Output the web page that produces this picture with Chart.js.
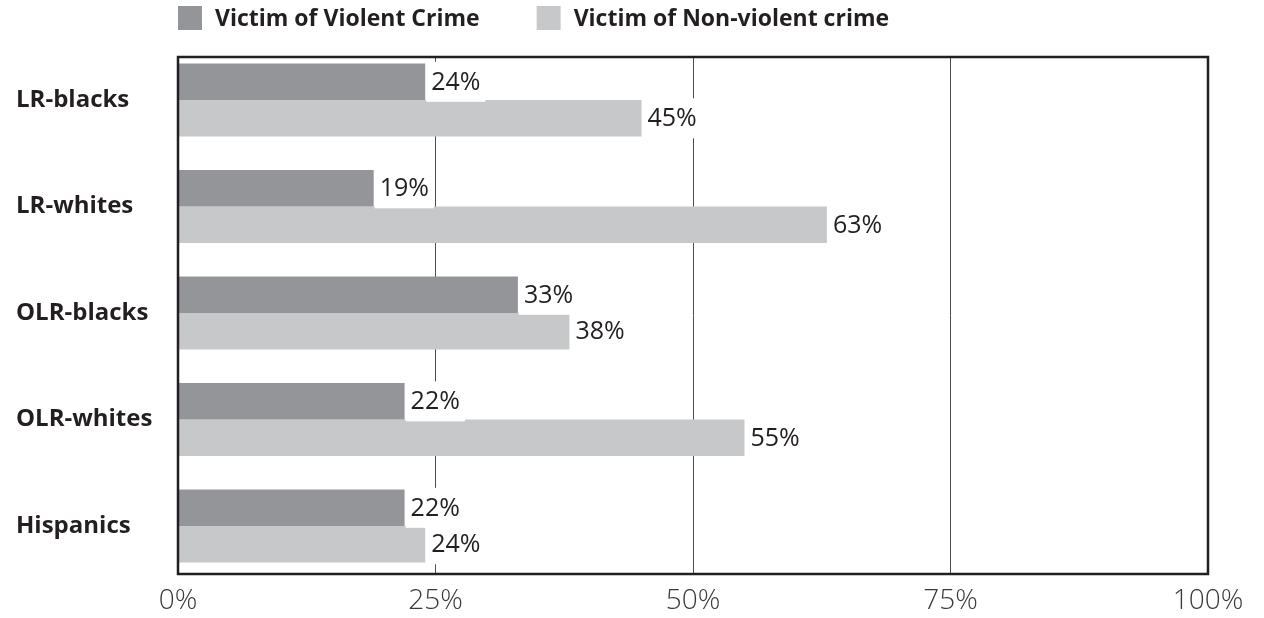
<html>
<head>
	<title>Crime victims chart</title>
	<meta name="viewport" content="width=device-width, initial-scale=1">
	<script src="https://cdn.jsdelivr.net/npm/chart.js"></script>
	<style>
		html, body { margin: 0; padding: 0; background: #fff; }
		.chart { width: 1264px; height: 618px; }
	</style>
</head>
<body>
	<div class="chart">
		<canvas id="victims" width="1264" height="618"></canvas>
	</div>
</body>
<script>
    const categories = ['LR-blacks', 'LR-whites', 'OLR-blacks', 'OLR-whites', 'Hispanics'];
    const seriesNames = ['Victim of Violent Crime', 'Victim of Non-violent crime'];
    const violent = [24, 19, 33, 22, 22];
    const nonViolent = [45, 63, 38, 55, 24];
    const xTicks = [0, 25, 50, 75, 100];

    const colors = ['#939598', '#c7c8ca'];
    const textColor = '#231f20';
    const fontFamily = '"Open Sans", "Noto Sans", sans-serif';

    // 막대 옆 값 표시 (흰 배경 박스)
    const valueLabels = {
        id: 'valueLabels',
        afterDatasetsDraw(chart) {
            const ctx = chart.ctx;
            ctx.save();
            ctx.font = `25px ${fontFamily}`;
            ctx.textBaseline = 'middle';
            ctx.textAlign = 'left';
            chart.data.datasets.forEach((ds, di) => {
                chart.getDatasetMeta(di).data.forEach((bar, i) => {
                    const text = ds.data[i].x + '%';
                    const w = ctx.measureText(text).width;
                    ctx.fillStyle = '#fff';
                    ctx.fillRect(bar.x + 1, bar.y - 20, w + 10, 40);
                    ctx.fillStyle = textColor;
                    ctx.fillText(text, bar.x + 6, bar.y + 1);
                });
            });
            ctx.restore();
        }
    };

    // 플롯 영역 테두리
    const plotBorder = {
        id: 'plotBorder',
        afterDatasetsDraw(chart) {
            const a = chart.chartArea;
            const ctx = chart.ctx;
            ctx.save();
            ctx.strokeStyle = textColor;
            ctx.lineWidth = 2.5;
            ctx.strokeRect(a.left, a.top, a.right - a.left, a.bottom - a.top);
            ctx.restore();
        }
    };

    // 상단 범례
    const topLegend = {
        id: 'topLegend',
        afterDraw(chart) {
            const ctx = chart.ctx;
            ctx.save();
            ctx.font = `bold 23px ${fontFamily}`;
            ctx.textBaseline = 'middle';
            ctx.textAlign = 'left';
            let x = chart.chartArea.left;
            chart.data.datasets.forEach((ds) => {
                ctx.fillStyle = ds.backgroundColor;
                ctx.fillRect(x, 6, 24, 24);
                ctx.fillStyle = textColor;
                ctx.fillText(ds.label, x + 37, 19);
                x += 37 + ctx.measureText(ds.label).width + 57;
            });
            ctx.restore();
        }
    };

    const chartData = {
        datasets: [
            {
                label: seriesNames[0],
                data: violent.map((v, i) => ({ x: v, y: i })),
                backgroundColor: colors[0],
            },
            {
                label: seriesNames[1],
                data: nonViolent.map((v, i) => ({ x: v, y: i })),
                backgroundColor: colors[1],
            }
        ]
    };

    const chartConfig = {
        type: 'bar',
        data: chartData,
        options: {
            indexAxis: 'y',
            responsive: false,
            animation: false,
            categoryPercentage: 0.685,
            barPercentage: 1,
            layout: { padding: { top: 57, left: 16, right: 56, bottom: 0 } },
            plugins: {
                legend: { display: false },
                tooltip: { enabled: false }
            },
            scales: {
                x: {
                    type: 'linear',
                    min: 0,
                    max: 100,
                    afterBuildTicks: (scale) => { scale.ticks = xTicks.map(v => ({ value: v })); },
                    afterFit: (scale) => { scale.height = 44; },
                    grid: {
                        drawTicks: false,
                        color: (c) => (c.tick && c.tick.value > 0 && c.tick.value < 100) ? '#4d4d4d' : 'transparent',
                        lineWidth: 1
                    },
                    border: { display: false },
                    ticks: {
                        padding: 10,
                        color: '#3a3a3a',
                        font: { family: fontFamily, size: 28, weight: 300 },
                        callback: (v) => v + '%'
                    }
                },
                y: {
                    type: 'linear',
                    reverse: true,
                    offset: false,
                    bounds: 'data',
                    min: -0.404,
                    max: 4.45,
                    afterBuildTicks: (scale) => { scale.ticks = categories.map((c, i) => ({ value: i })); },
                    afterFit: (scale) => { scale.width = 162; },
                    grid: { display: false, drawTicks: false, offset: false },
                    border: { display: false },
                    ticks: {
                        crossAlign: 'far',
                        color: textColor,
                        font: { family: fontFamily, size: 24, weight: 'bold' },
                        callback: (v) => categories[v] ?? ''
                    }
                }
            }
        },
        plugins: [valueLabels, plotBorder, topLegend]
    };

    const chart = new Chart(document.getElementById('victims'), chartConfig);
</script>
</html>
